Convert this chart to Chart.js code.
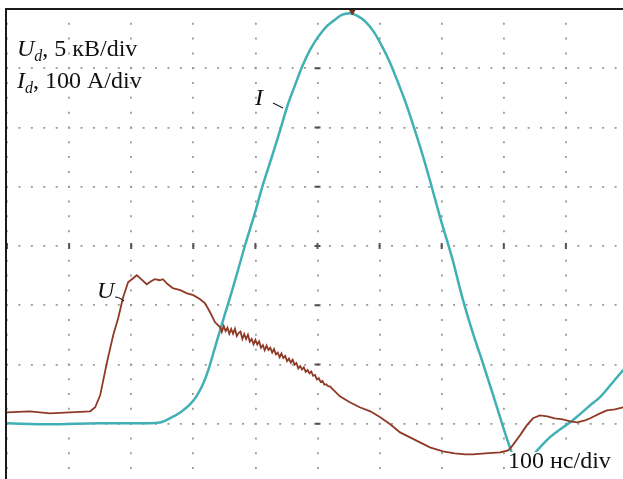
<!DOCTYPE html>
<html>
<head>
<meta charset="utf-8">
<title>U, I осциллограмма</title>
<script src="https://cdn.jsdelivr.net/npm/chart.js@4.4.1/dist/chart.umd.min.js"></script>
<style>
    html, body { margin: 0; padding: 0; background: #ffffff; overflow: hidden; }
    #wrap { position: absolute; left: 0; top: 0; width: 640px; height: 492px; }
</style>
</head>
<body>
<div id="wrap"><canvas id="scopeChart"></canvas></div>
<script>
// время, нс (100 нс/div)
const uTime = [0, 37, 69, 101, 134, 142, 150, 161, 171, 179, 187, 195, 203, 209, 216, 225, 232, 238, 246, 251, 259, 267, 279, 290, 300, 311, 319, 327, 335,
    343, 346, 349, 352, 355, 358, 361, 364, 367, 370, 373, 376, 379, 382, 385, 388, 391, 394, 397, 400, 403, 406, 409, 412, 415, 418, 421, 424, 427, 430,
    433, 436, 439, 442, 445, 448, 451, 454, 457, 460, 463, 466, 469, 472, 475, 478, 481, 484, 487, 490, 493, 496, 499, 502, 505, 508, 511, 514, 517, 520,
    536, 552, 568, 585, 601, 617, 633, 649, 665, 681, 702, 721, 738, 750, 770, 794, 807, 813, 826, 837, 847, 858, 870, 882, 895, 907, 918, 931, 939, 955,
    966, 979, 992, 1000];
// напряжение, кВ (5 кВ/div)
const uVolt = [0.96, 1.05, 0.88, 0.96, 1.05, 1.39, 2.4, 5.19, 7.47, 8.91, 10.68, 11.94, 12.28, 12.53, 12.2, 11.77, 12.03, 12.2, 12.11, 12.2, 11.77, 11.44, 11.27, 11.01, 10.85, 10.51, 10.17, 9.41, 8.56,
    8.16, 7.75, 8.25, 7.82, 8.1, 7.59, 8.0, 7.59, 8.02, 7.41, 7.65, 7.78, 7.15, 7.57, 7.14, 7.51, 6.93, 7.15, 6.71, 7.08, 6.69, 6.95, 6.42, 6.64, 6.2, 6.59, 6.23, 6.41, 6.0, 6.3,
    5.85, 6.01, 5.61, 5.93, 5.55, 5.72, 5.28, 5.5, 5.16, 5.4, 4.99, 5.13, 4.67, 4.86, 4.58, 4.75, 4.37, 4.54, 4.26, 4.41, 4.04, 4.11, 3.74, 3.86, 3.54, 3.61, 3.29, 3.34, 3.17, 3.16,
    2.31, 1.81, 1.39, 1.05, 0.54, -0.05, -0.73, -1.15, -1.57, -1.99, -2.33, -2.5, -2.58, -2.58, -2.5, -2.42, -2.25, -1.91, -0.98, -0.14, 0.46, 0.71, 0.63, 0.46, 0.37, 0.2, 0.12, 0.29, 0.46, 0.88,
    1.13, 1.22, 1.39, 1.45];

const iTime = [0, 69, 150, 230, 246, 262, 279, 295, 306, 316, 324, 335, 348, 364, 383, 399, 412, 427, 440, 452, 464, 475, 488, 501, 514, 527, 539, 552,
    565, 578, 591, 604, 617, 630, 643, 655, 668, 681, 697, 717, 734, 750, 767, 783, 797, 810, 826, 847, 874, 911, 939, 955, 974, 992, 1000];
// ток, А (100 A/div)
const iAmp = [1, -1, 1, 1, 2, 9, 19, 33, 48, 68, 90, 129, 175, 230, 300, 355, 403, 452, 496, 538, 572, 602, 631, 653, 670, 681, 690, 693,
    688, 678, 661, 637, 609, 575, 539, 501, 458, 411, 350, 279, 210, 154, 100, 48, 1, -40, -80, -53, -23, 6, 31, 45, 68, 90, 98];

// метка запуска на верхней границе
const trigTime = [556];
const trigLevel = [697];

document.addEventListener("DOMContentLoaded", function () {
    if (typeof Chart === "undefined") {
        console.error("Chart.js не загружен");
        return;
    }

    const serif = '"Liberation Serif", "Times New Roman", serif';

    const toPoints = (xs, ys) => xs.map((x, k) => ({ x: x, y: ys[k] }));

    // текст с индексом: части [текст, курсив, нижний индекс]
    function drawRich(ctx, x, y, parts) {
        let cx = x;
        parts.forEach(([text, italic, sub]) => {
            ctx.font = (italic ? "italic " : "") + (sub ? 16 : 24) + "px " + serif;
            ctx.fillText(text, cx, y + (sub ? 5 : 0));
            cx += ctx.measureText(text).width;
        });
    }

    // центральные риски и крест
    const centerMarks = {
        id: "centerMarks",
        beforeDatasetsDraw(chart) {
            const { ctx, scales } = chart;
            const xs = scales.x, ys = scales.y;
            const xc = xs.getPixelForValue(500), yc = ys.getPixelForValue(300);
            ctx.save();
            ctx.fillStyle = "#555555";
            ys.ticks.forEach((t) => {
                ctx.fillRect(xc - 3, ys.getPixelForValue(t.value) - 1, 6, 2);
            });
            xs.ticks.forEach((t) => {
                ctx.fillRect(xs.getPixelForValue(t.value) - 1, yc - 3, 2, 6);
            });
            ctx.restore();
        },
    };

    // подписи и рамка
    const labels = {
        id: "labels",
        afterDatasetsDraw(chart) {
            const { ctx, chartArea: a } = chart;
            ctx.save();
            ctx.fillStyle = "#111111";
            ctx.textBaseline = "alphabetic";
            drawRich(ctx, a.left + 10, a.top + 47, [["U", true], ["d", true, true], [", 5 кВ/div", false]]);
            drawRich(ctx, a.left + 10, a.top + 79, [["I", true], ["d", true, true], [", 100 A/div", false]]);

            drawRich(ctx, a.left + 248, a.top + 96, [["I", true]]);
            drawRich(ctx, a.left + 90, a.top + 289, [["U", true]]);

            ctx.strokeStyle = "#222222";
            ctx.lineWidth = 1.2;
            ctx.beginPath();
            ctx.moveTo(a.left + 266, a.top + 94);
            ctx.lineTo(a.left + 276, a.top + 99);
            ctx.moveTo(a.left + 108, a.top + 288);
            ctx.quadraticCurveTo(a.left + 112, a.top + 288, a.left + 117, a.top + 292);
            ctx.stroke();

            // подпись развёртки на белом фоне
            ctx.fillStyle = "#ffffff";
            ctx.fillRect(a.left + 500, a.top + 443, 110, 26);
            ctx.fillStyle = "#111111";
            drawRich(ctx, a.left + 501, a.top + 459, [["100 нс/div", false]]);
            ctx.restore();
        },
        afterDraw(chart) {
            const { ctx, chartArea: a, width, height } = chart;
            ctx.save();
            ctx.fillStyle = "#1a1a1a";
            ctx.fillRect(a.left - 2, a.top - 1, width, 2);
            ctx.fillRect(a.left - 2, a.top - 1, 2, height);
            ctx.restore();
        },
    };

    new Chart(document.getElementById("scopeChart").getContext("2d"), {
        type: "line",
        data: {
            datasets: [
                {
                    label: "U",
                    data: toPoints(uTime, uVolt),
                    yAxisID: "yU",
                    borderColor: "#8f3a26",
                    borderWidth: 1.8,
                    pointRadius: 0,
                    tension: 0,
                    order: 0,
                },
                {
                    label: "I",
                    data: toPoints(iTime, iAmp),
                    yAxisID: "y",
                    borderColor: "#41b0b4",
                    borderWidth: 2.5,
                    pointRadius: 0,
                    cubicInterpolationMode: "monotone",
                    order: 1,
                },
                {
                    label: "trig",
                    data: toPoints(trigTime, trigLevel),
                    yAxisID: "y",
                    showLine: false,
                    pointStyle: "triangle",
                    rotation: 180,
                    pointRadius: 4,
                    pointBackgroundColor: "#7a2e20",
                    pointBorderColor: "#7a2e20",
                    order: 0,
                },
            ],
        },
        options: {
            responsive: true,
            maintainAspectRatio: false,
            animation: false,
            layout: { padding: { left: 7, top: 9, right: 12, bottom: 9 } },
            plugins: {
                legend: { display: false },
                tooltip: { enabled: false },
            },
            scales: {
                x: {
                    type: "linear",
                    min: 0,
                    max: 1000,
                    ticks: { display: false, stepSize: 100, autoSkip: false },
                    grid: { color: "#9a9a9a", lineWidth: 1.8, drawTicks: false },
                    border: { display: false, dash: [2, 12.81], dashOffset: 1 },
                },
                y: {
                    min: -100,
                    max: 700,
                    ticks: { display: false, stepSize: 100, autoSkip: false },
                    grid: { color: "#9a9a9a", lineWidth: 1.8, drawTicks: false },
                    border: { display: false, dash: [2, 10.42], dashOffset: 1 },
                },
                yU: {
                    display: false,
                    min: -5,
                    max: 35,
                },
            },
        },
        plugins: [centerMarks, labels],
    });
});
</script>
</body>
</html>
